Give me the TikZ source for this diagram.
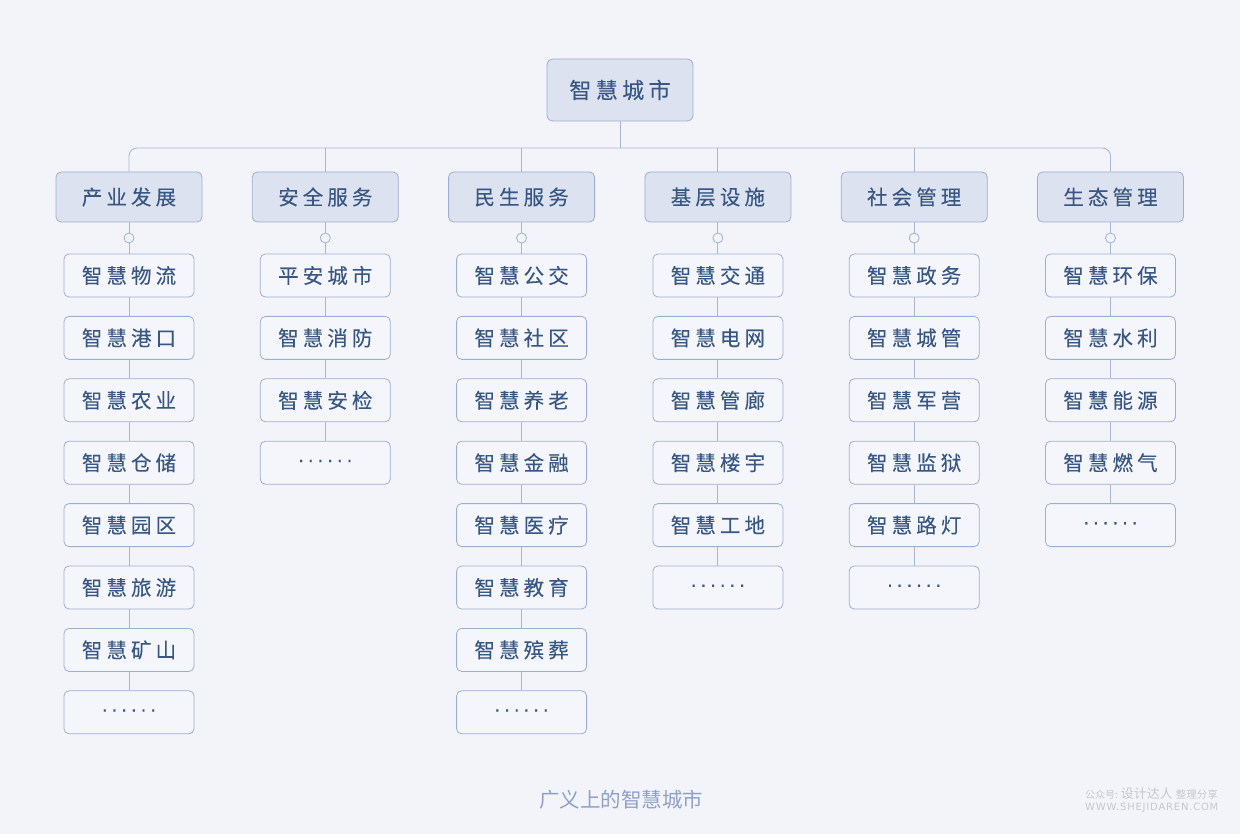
\documentclass[tikz,border=0pt]{standalone}
\usepackage{fontspec}
\newfontfamily\cjk[LetterSpace=20,FakeBold=0.15]{Noto Sans CJK SC}
\newfontfamily\cjkplain{Noto Sans CJK SC}
\newfontfamily\dotfont[LetterSpace=22,FakeBold=0.5]{DejaVu Sans}
\newfontfamily\wmlatin[LetterSpace=8]{DejaVu Sans}
\definecolor{bg}{HTML}{F3F4FA}
\definecolor{catfill}{HTML}{DCE2EF}
\definecolor{leaffill}{HTML}{F5F6FB}
\definecolor{bd}{HTML}{9DAECE}
\definecolor{ln}{HTML}{A9B6D2}
\definecolor{tx}{HTML}{385782}
\definecolor{cap}{HTML}{8FA0C4}
\definecolor{wm}{HTML}{C6C8CE}
\tikzset{
  rootbox/.style={draw=bd, fill=catfill, rounded corners=6pt, line width=0.8pt,
    minimum width=146pt, minimum height=62pt, inner sep=0pt, text=tx,
    font=\cjk\fontsize{22}{24}\selectfont},
  catbox/.style={draw=bd, fill=catfill, rounded corners=5pt, line width=0.8pt,
    minimum width=146pt, minimum height=50pt, inner sep=0pt, text=tx,
    font=\cjk\fontsize{20.5}{22}\selectfont},
  leafbox/.style={draw=bd, fill=leaffill, rounded corners=5pt, line width=0.8pt,
    minimum width=130pt, minimum height=43pt, inner sep=0pt, text=tx,
    font=\cjk\fontsize{20.5}{22}\selectfont},
  conn/.style={draw=ln, line width=0.9pt},
  knob/.style={circle, draw=ln, fill=bg, line width=0.9pt, minimum size=10pt, inner sep=0pt}
}
\newcommand{\mydots}{\smash{\raisebox{-4.5pt}{\dotfont\fontsize{18}{18}\selectfont ······}}}
\begin{document}
\begin{tikzpicture}[x=1pt,y=-1pt]
\fill[bg] (0,0) rectangle (1240,834);
\useasboundingbox (0,0) rectangle (1240,834);

\node[rootbox] (root) at (620,90) {智慧城市};
\coordinate (bus) at (620,148);

\foreach \i/\name in {1/产业发展,2/安全服务,3/民生服务,4/基层设施,5/社会管理,6/生态管理}{
  \pgfmathsetmacro{\cx}{129+196.3*(\i-1)}
  \node[catbox] (c\i) at (\cx,197) {\name};
  \node[knob] (k\i) at (\cx,238) {};
  \draw[conn] (c\i.south) -- (k\i.north);
}

\foreach \i/\items in {
  1/{智慧物流,智慧港口,智慧农业,智慧仓储,智慧园区,智慧旅游,智慧矿山,\mydots},
  2/{平安城市,智慧消防,智慧安检,\mydots},
  3/{智慧公交,智慧社区,智慧养老,智慧金融,智慧医疗,智慧教育,智慧殡葬,\mydots},
  4/{智慧交通,智慧电网,智慧管廊,智慧楼宇,智慧工地,\mydots},
  5/{智慧政务,智慧城管,智慧军营,智慧监狱,智慧路灯,\mydots},
  6/{智慧环保,智慧水利,智慧能源,智慧燃气,\mydots}}{
  \pgfmathsetmacro{\cx}{129+196.3*(\i-1)}
  \foreach \t [count=\j] in \items {
    \pgfmathsetmacro{\cy}{275.5+62.4*(\j-1)}
    \node[leafbox] (l\i-\j) at (\cx,\cy) {\t};
    \ifnum\j=1
      \draw[conn] (k\i.south) -- (l\i-\j.north);
    \else
      \pgfmathtruncatemacro{\pj}{\j-1}
      \draw[conn] (l\i-\pj.south) -- (l\i-\j.north);
    \fi
  }
}

\draw[conn] (root.south) -- (bus);
\draw[conn, rounded corners=8pt] (c1.north) |- (bus) -| (c6.north);
\foreach \i in {2,3,4,5}{
  \draw[conn] (c\i.north) -- (c\i.north |- bus);
}

\node[text=cap, font=\cjkplain\fontsize{20.5}{22}\selectfont] (caption) at (621,800) {广义上的智慧城市};

\node[text=wm, anchor=west, inner sep=0pt] (wm1) at (1085,794)
  {{\cjkplain\fontsize{10}{11}\selectfont 公众号:}\hspace{3pt}{\cjkplain\fontsize{13}{14}\selectfont 设计达人}\hspace{3pt}{\cjkplain\fontsize{10.5}{11}\selectfont 整理分享}};
\node[text=wm, anchor=west, inner sep=0pt] (wm2) at (1085,808)
  {\wmlatin\fontsize{10}{10}\selectfont WWW.SHEJIDAREN.COM};
\end{tikzpicture}
\end{document}
